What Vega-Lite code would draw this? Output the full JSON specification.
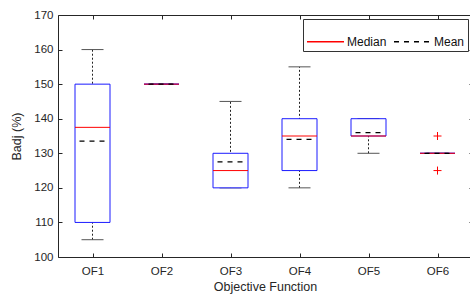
{
  "$schema": "https://vega.github.io/schema/vega-lite/v6.json",
  "autosize": {"type": "none"},
  "padding": {"left": 58, "top": 15, "right": 0, "bottom": 41},
  "width": 414,
  "height": 242,
  "background": "white",
  "config": {
    "view": {"stroke": null},
    "axis": {
      "domainColor": "#262626",
      "tickColor": "#262626",
      "labelColor": "#262626",
      "titleColor": "#262626",
      "labelFont": "Liberation Sans",
      "titleFont": "Liberation Sans",
      "labelFontSize": 11.5,
      "titleFontSize": 12.5,
      "titleFontWeight": "normal",
      "grid": false
    },
    "legend": {
      "labelFont": "Liberation Sans",
      "labelFontSize": 12,
      "labelColor": "#111"
    }
  },
  "datasets": {
    "stats": [
      {"OF": "OF1", "lo": 105, "q1": 110, "med": 137.5, "q3": 150, "hi": 160, "mean": 133.5},
      {"OF": "OF2", "lo": 150, "q1": 150, "med": 150, "q3": 150, "hi": 150, "mean": 150},
      {"OF": "OF3", "lo": 120, "q1": 120, "med": 125, "q3": 130, "hi": 145, "mean": 127.5},
      {"OF": "OF4", "lo": 120, "q1": 125, "med": 135, "q3": 140, "hi": 155, "mean": 134},
      {"OF": "OF5", "lo": 130, "q1": 135, "med": 135, "q3": 140, "hi": 140, "mean": 136},
      {"OF": "OF6", "lo": 130, "q1": 130, "med": 130, "q3": 130, "hi": 130, "mean": 130}
    ],
    "outliers": [
      {"OF": "OF6", "value": 135},
      {"OF": "OF6", "value": 125}
    ]
  },
  "resolve": {"axis": {"x": "independent", "y": "independent"}},
  "layer": [
    {
      "data": {"name": "stats"},
      "mark": {"type": "rule", "color": "#222", "strokeDash": [2, 2], "strokeWidth": 1},
      "encoding": {
        "x": {"field": "OF", "type": "nominal", "scale": {"type": "point", "padding": 0.5},
          "axis": {"orient": "bottom", "title": "Objective Function", "labelAngle": 0, "tickSize": -4, "labelPadding": 12, "titlePadding": 4}},
        "y": {"field": "lo", "type": "quantitative", "scale": {"domain": [100, 170], "nice": false, "zero": false},
          "axis": {"orient": "left", "title": "Badj (%)", "values": [100, 110, 120, 130, 140, 150, 160, 170], "tickSize": -4, "labelPadding": 9, "titlePadding": 10}},
        "y2": {"field": "hi"}
      }
    },
    {
      "data": {"name": "stats"},
      "mark": {"type": "rule", "color": "#555", "xOffset": -11, "x2Offset": 11},
      "encoding": {
        "x": {"field": "OF", "type": "nominal", "axis": {"orient": "top", "title": null, "labels": false, "tickSize": -4, "domainColor": "#262626"}},
        "x2": {"field": "OF"},
        "y": {"field": "lo", "type": "quantitative", "axis": {"orient": "right", "title": null, "labels": false, "tickSize": -3, "values": [100, 110, 120, 130, 140, 150, 160, 170]}}
      }
    },
    {
      "data": {"name": "stats"},
      "mark": {"type": "rule", "color": "#555", "xOffset": -11, "x2Offset": 11},
      "encoding": {
        "x": {"field": "OF", "type": "nominal", "axis": null},
        "x2": {"field": "OF"},
        "y": {"field": "hi", "type": "quantitative", "axis": null}
      }
    },
    {
      "data": {"name": "stats"},
      "mark": {"type": "bar", "size": 35, "fill": "white", "stroke": "#1a1aff", "strokeWidth": 1},
      "encoding": {
        "x": {"field": "OF", "type": "nominal", "axis": null},
        "y": {"field": "q1", "type": "quantitative", "axis": null},
        "y2": {"field": "q3"}
      }
    },
    {
      "data": {"name": "stats"},
      "mark": {"type": "rule", "xOffset": -17.5, "x2Offset": 17.5, "strokeWidth": 1},
      "encoding": {
        "x": {"field": "OF", "type": "nominal", "axis": null},
        "x2": {"field": "OF"},
        "y": {"field": "med", "type": "quantitative", "axis": null},
        "color": {"datum": "Median", "type": "nominal", "scale": {"domain": ["Median", "Mean"], "range": ["#ff0000", "#000000"]},
          "legend": {"title": null, "orient": "top-right", "direction": "horizontal", "offset": 4, "strokeColor": "#333", "fillColor": "white", "padding": 3, "symbolType": "stroke", "symbolSize": 1369, "symbolStrokeWidth": 1.5, "labelOffset": 2, "columnPadding": 4}},
        "strokeDash": {"datum": "Median", "type": "nominal", "scale": {"domain": ["Median", "Mean"], "range": [[1, 0], [5, 5]]},
          "legend": {"title": null, "orient": "top-right", "direction": "horizontal", "offset": 4, "strokeColor": "#333", "fillColor": "white", "padding": 3, "symbolType": "stroke", "symbolSize": 1369, "symbolStrokeWidth": 1.5, "labelOffset": 2, "columnPadding": 4}}
      }
    },
    {
      "data": {"name": "stats"},
      "mark": {"type": "rule", "xOffset": -13, "x2Offset": 13, "strokeWidth": 1.2},
      "encoding": {
        "x": {"field": "OF", "type": "nominal", "axis": null},
        "x2": {"field": "OF"},
        "y": {"field": "mean", "type": "quantitative", "axis": null},
        "color": {"datum": "Mean", "type": "nominal"},
        "strokeDash": {"datum": "Mean", "type": "nominal"}
      }
    },
    {
      "data": {"name": "outliers"},
      "mark": {"type": "point", "shape": "M-1,0L1,0M0,-1L0,1", "size": 64, "filled": false, "stroke": "#ff0000", "strokeWidth": 1, "opacity": 1},
      "encoding": {
        "x": {"field": "OF", "type": "nominal", "axis": null},
        "y": {"field": "value", "type": "quantitative", "axis": null}
      }
    }
  ]
}
